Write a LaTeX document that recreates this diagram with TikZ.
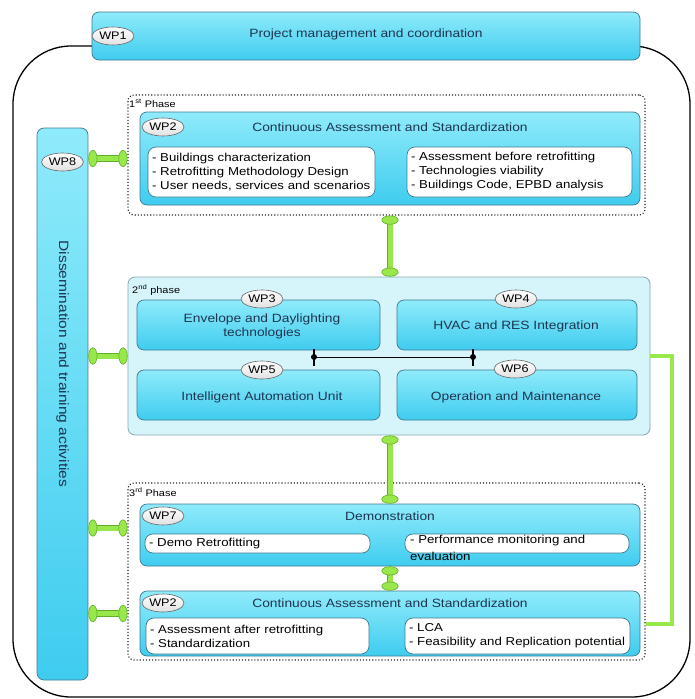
\documentclass[tikz,border=0pt]{standalone}
\usepackage{fontspec}
\setmainfont{Liberation Sans}[FakeStretch=1.15]
\usepackage{xcolor}
\usetikzlibrary{shapes.geometric,arrows.meta,positioning}
\definecolor{wpT}{HTML}{8FEBFB}
\definecolor{wpL}{HTML}{3FCCEF}
\definecolor{wpB}{HTML}{3E7A90}
\definecolor{phF}{HTML}{D6F5FB}
\definecolor{phB}{HTML}{8AA6B0}
\definecolor{titleC}{HTML}{1E3550}
\definecolor{limeF}{HTML}{98E84B}
\definecolor{limeB}{HTML}{60AE28}

\begin{document}
\begin{tikzpicture}[x=1pt,y=-1pt,
  wpbox/.style={draw=wpB, line width=0.7pt, rounded corners=7pt, top color=wpT, bottom color=wpL, inner sep=0pt},
  subbox/.style={draw=wpB, line width=0.7pt, fill=white, rounded corners=8pt, align=left,
    font=\fontsize{11.5}{14}\selectfont, inner xsep=4pt, inner ysep=0pt},
  phasebox/.style={draw=black!85, line width=1.1pt, dotted, rounded corners=6pt},
  wptag/.style={ellipse, draw=black!60, line width=0.6pt, top color=white, bottom color=black!12,
    minimum width=42pt, minimum height=18pt, inner sep=0pt, font=\fontsize{11}{11}\selectfont},
  wptitle/.style={text=titleC, font=\fontsize{12}{14}\selectfont, align=center},
  phaselbl/.style={anchor=west, font=\fontsize{9.5}{9.5}\selectfont, inner sep=1pt},
  knob/.tip={Ellipse[length=9pt,width=17pt,fill=limeF,color=limeB,line width=0.6pt]},
  bone/.style={line width=5pt, draw=limeF, knob-knob,
    preaction={draw=limeB, line width=6.2pt, -, shorten <=4pt, shorten >=4pt}},
  bracket/.style={draw=limeF, line width=4pt},
  ]
\useasboundingbox (0,0) rectangle (695,699);

% === outer frame
\draw[line width=1.3pt, rounded corners=58pt] (13,46) rectangle (690,697);

% === WP1 and WP8
\node[wpbox, minimum width=548pt, minimum height=48pt] (wp1) at (366,36) {};
\node[wptag] (t1) at (113,36) {WP1};
\node[wptitle] (n1) at (366,34) {Project management and coordination};
\node[wpbox, minimum width=51pt, minimum height=552pt] (wp8) at (62.5,404) {};
\node[wptag] (t8) at (62.5,162) {WP8};
\node[wptitle, font=\fontsize{13.5}{15}\selectfont, rotate=-90] (n8) at (62.5,364)
  {Dissemination and training activities};

% === 1st phase
\node[phasebox, minimum width=517pt, minimum height=120pt] (p1) at (386.5,155) {};
\node[phaselbl] (l1) at (128,103) {1\textsuperscript{st} Phase};
\node[wpbox, minimum width=500pt, minimum height=93pt] (wp2a) at (390,158.5) {};
\node[wptag] (t2a) at (163,127) {WP2};
\node[wptitle] (n2a) at (390,127) {Continuous Assessment and Standardization};
\node[subbox, minimum width=227pt, minimum height=50pt, text width=219pt] (s2a) at (261.5,172)
  {- Buildings characterization\\- Retrofitting Methodology Design\\- User needs, services and scenarios};
\node[subbox, minimum width=225pt, minimum height=50pt, text width=217pt] (r2a) at (519.5,172)
  {- Assessment before retrofitting\\- Technologies viability\\- Buildings Code, EPBD analysis};

% === 2nd phase
\node[draw=phB, fill=phF, line width=0.8pt, rounded corners=7pt,
      minimum width=522pt, minimum height=158pt] (p2) at (389,356) {};
\node[phaselbl] (l2) at (131,290) {2\textsuperscript{nd} phase};
\node[wpbox, minimum width=243pt, minimum height=50pt] (wp3) at (258.5,325) {};
\node[wpbox, minimum width=240pt, minimum height=50pt] (wp4) at (517,325) {};
\node[wpbox, minimum width=243pt, minimum height=50pt] (wp5) at (258.5,395) {};
\node[wpbox, minimum width=240pt, minimum height=50pt] (wp6) at (517,395) {};
\node[wptitle] (n3) at (262,326) {Envelope and Daylighting\\technologies};
\node[wptitle] (n4) at (516,326) {HVAC and RES Integration};
\node[wptitle] (n5) at (262,397) {Intelligent Automation Unit};
\node[wptitle] (n6) at (516,397) {Operation and Maintenance};
\node[wptag] (t3) at (262,299) {WP3};
\node[wptag] (t4) at (516,299) {WP4};
\node[wptag] (t5) at (262,370) {WP5};
\node[wptag] (t6) at (515,369) {WP6};

% === link between WP3-WP5 and WP4-WP6
\coordinate (j1) at (314,357);
\coordinate (j2) at (473,357);
\draw[line width=1pt] (j1) -- (j2);
\foreach \j in {j1,j2} {
  \draw[line width=1.2pt] ([yshift=8pt]\j) -- ([yshift=-9pt]\j);
  \fill (\j) circle (3pt);}

% === 3rd phase
\node[phasebox, minimum width=517pt, minimum height=177pt] (p3) at (386.5,571.5) {};
\node[phaselbl] (l3) at (128,492) {3\textsuperscript{rd} Phase};
\node[wpbox, minimum width=500pt, minimum height=62pt] (wp7) at (390,535) {};
\node[wptag] (t7) at (163,516) {WP7};
\node[wptitle] (n7) at (390,516) {Demonstration};
\node[subbox, minimum width=225pt, minimum height=19pt, text width=217pt] (s7) at (257.5,543.5)
  {- Demo Retrofitting};
\node[subbox, minimum width=224pt, minimum height=19pt] (r7) at (517,543.5) {};
\node[anchor=north west, inner sep=0pt, align=left, font=\fontsize{11.5}{17}\selectfont]
  (r7t) at (410,535) {- Performance monitoring and\\evaluation};
\node[wpbox, minimum width=500pt, minimum height=65pt] (wp2b) at (390,623.5) {};
\node[wptag] (t2b) at (163,603) {WP2};
\node[wptitle] (n2b) at (390,603) {Continuous Assessment and Standardization};
\node[subbox, minimum width=223pt, minimum height=36pt, text width=215pt] (s2b) at (257.5,636)
  {- Assessment after retrofitting\\- Standardization};
\node[subbox, minimum width=225pt, minimum height=36pt, text width=217pt] (r2b) at (517.5,636)
  {- LCA\\- Feasibility and Replication potential};

% === green links
\draw[bone] (wp8.east |- wp2a.west) -- (p1.west |- wp2a.west);
\draw[bone] (wp8.east |- p2.west) -- (p2.west);
\draw[bone] ([yshift=7pt]wp8.east |- wp7.west) -- ([yshift=7pt]p3.west |- wp7.west);
\draw[bone] ([yshift=10pt]wp8.east |- wp2b.west) -- ([yshift=10pt]p3.west |- wp2b.west);
\draw[bone] (wp2a.south |- p1.south) -- (wp2a.south |- p2.north);
\draw[bone] (wp7.north |- p2.south) -- (wp7.north);
\draw[bone] (wp7.south) -- (wp2b.north);
\draw[bracket] (p2.east) -- ++(22,0) |- (p3.east |- wp2b.east);

\end{tikzpicture}
\end{document}
